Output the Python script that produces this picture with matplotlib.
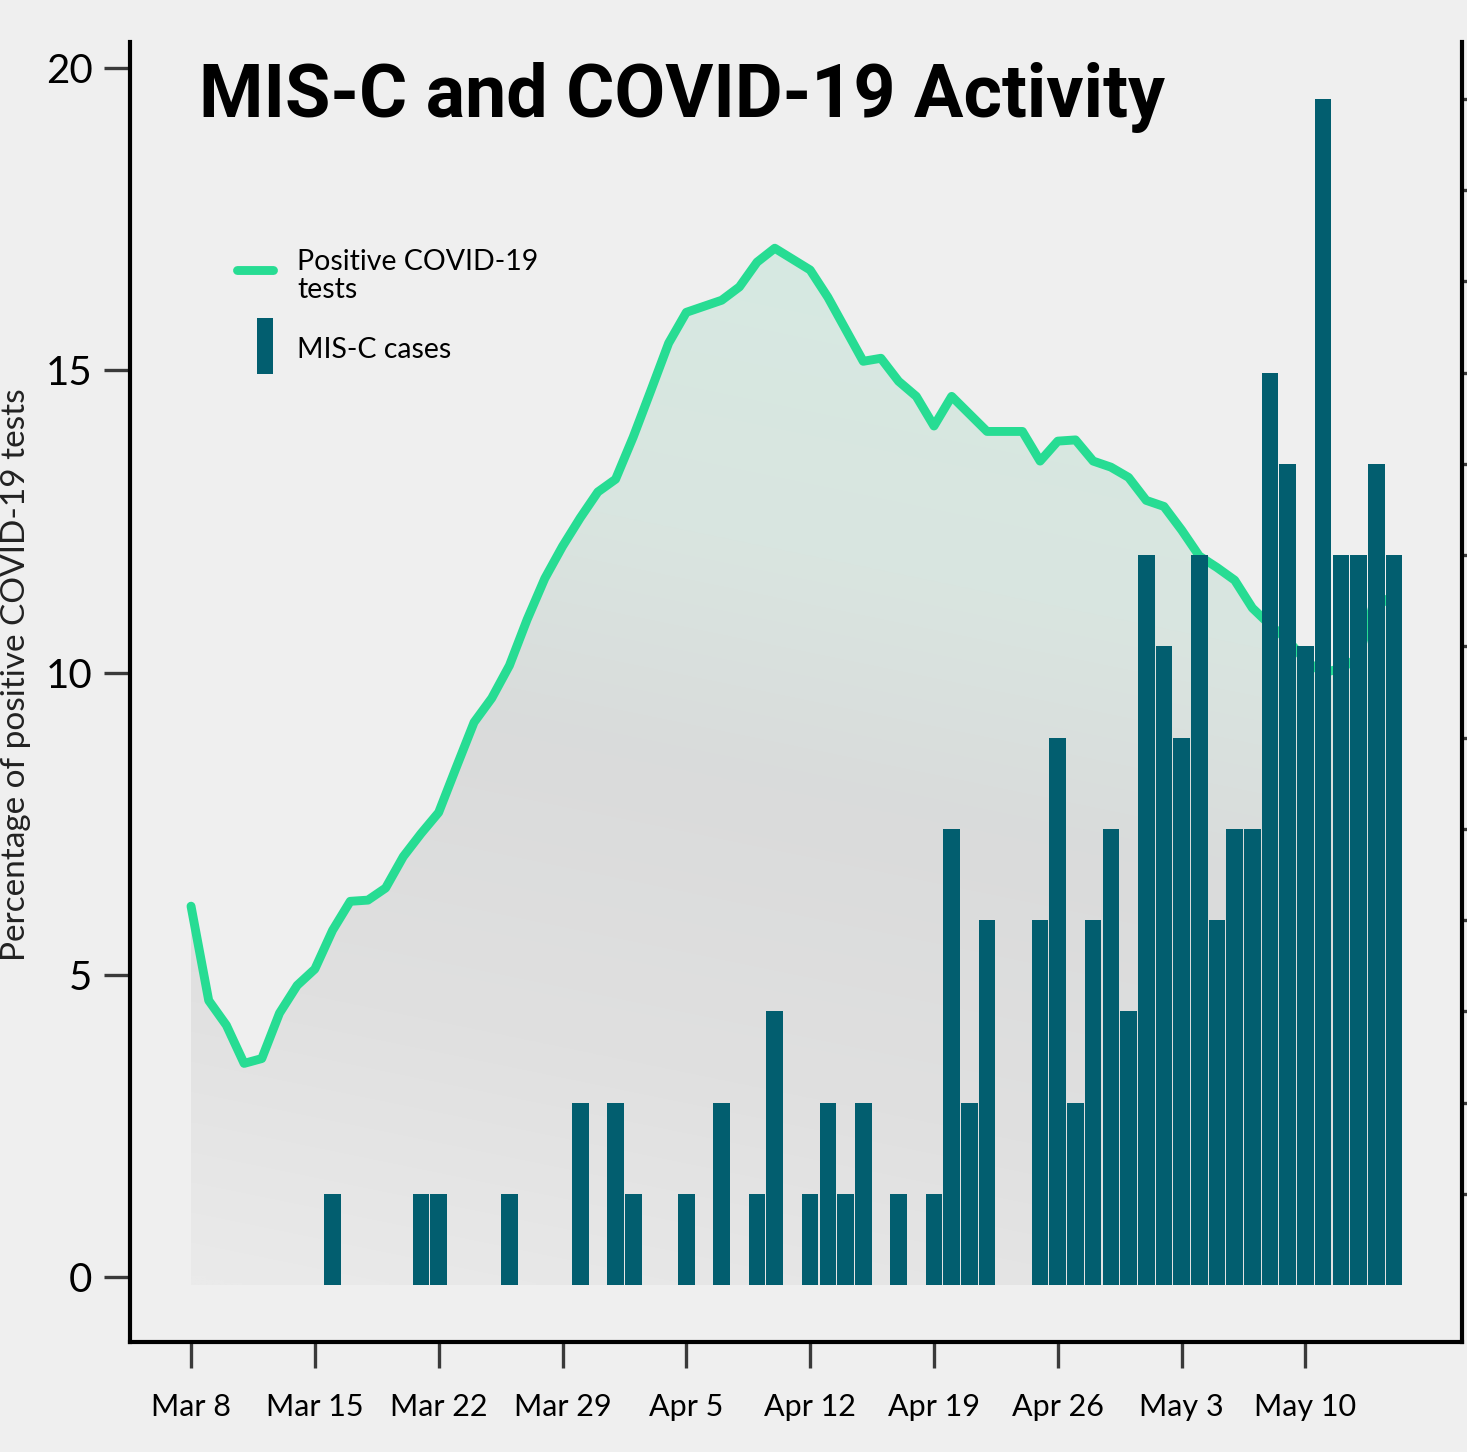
import numpy as np
import matplotlib.pyplot as plt
from matplotlib.patches import Polygon, Rectangle
from matplotlib.lines import Line2D

plt.rcParams['font.family'] = ['Lato', 'DejaVu Sans']

# day 0 = Mar 8
pct_positive = [6.14, 4.58, 4.17, 3.54, 3.62, 4.37, 4.83, 5.10, 5.74, 6.22,
                6.24, 6.44, 6.96, 7.34, 7.69, 8.44, 9.18, 9.58, 10.12, 10.88,
                11.56, 12.09, 12.56, 12.99, 13.20, 13.90, 14.67, 15.45, 15.96, 16.06,
                16.16, 16.38, 16.79, 17.02, 16.84, 16.66, 16.21, 15.68, 15.15, 15.20,
                14.82, 14.57, 14.08, 14.57, 14.28, 13.99, 13.99, 13.99, 13.50, 13.83,
                13.85, 13.50, 13.40, 13.23, 12.85, 12.75, 12.36, 11.93, 11.74, 11.53,
                11.07, 10.79, 10.54, 10.20, 10.00, 10.07, 10.25, 11.30, 11.10]
misc_cases = [0, 0, 0, 0, 0, 0, 0, 0, 1, 0,
              0, 0, 0, 1, 1, 0, 0, 0, 1, 0,
              0, 0, 2, 0, 2, 1, 0, 0, 1, 0,
              2, 0, 1, 3, 0, 1, 2, 1, 2, 0,
              1, 0, 1, 5, 2, 4, 0, 0, 4, 6,
              2, 4, 5, 3, 8, 7, 6, 8, 4, 5,
              5, 10, 9, 7, 13, 8, 8, 9, 8]
tick_days = [0, 7, 14, 21, 28, 35, 42, 49, 56, 63]
tick_labels = ["Mar 8", "Mar 15", "Mar 22", "Mar 29", "Apr 5",
               "Apr 12", "Apr 19", "Apr 26", "May 3", "May 10"]
pct_ticks = [0, 5, 10, 15, 20]
case_ticks = list(range(1, 14))

days = np.arange(len(pct_positive))
bar_days = np.arange(len(misc_cases))

bg = "#efefef"
green = "#27dc93"
teal = "#025e6f"
tickc = "#3a3a3a"

fig = plt.figure(figsize=(14.67, 14.52), dpi=100, facecolor=bg)
ax = fig.add_axes([130 / 1467, 110 / 1452, 1332 / 1467, 1300 / 1452])
ax.set_facecolor(bg)
ax2 = ax.twinx()

ax.set_xlim(-3.45, 71.85)
ax.set_ylim(-1.067, 20.43)
ax2.set_ylim(-0.625, 13.625)

# baseline of the area = zero of the right axis, in left-axis units
y0, y1 = ax.get_ylim()
r0, r1 = ax2.get_ylim()
base = y0 + (0 - r0) / (r1 - r0) * (y1 - y0)

# gradient area under the line
top = 17.6
xx = np.linspace(days[0], days[-1], 200)
yy = np.linspace(base, top, 300)
X, Y = np.meshgrid(xx, yy)
t = Y + 0.06 * (X - 34)
stops = [-2, 3, 8, 12, 18]
cols = np.array([[234, 234, 234],
                 [224, 224, 224],
                 [218, 219, 219],
                 [217, 229, 224],
                 [214, 234, 226]]) / 255
img = np.dstack([np.interp(t, stops, cols[:, i]) for i in range(3)])
poly = Polygon(list(zip(days, pct_positive)) + [(days[-1], base), (days[0], base)],
               closed=True, facecolor='none', edgecolor='none')
ax.add_patch(poly)
im = ax.imshow(img, extent=[days[0], days[-1], base, top], origin='lower',
               aspect='auto', zorder=1, interpolation='bilinear')
im.set_clip_path(poly)

ax.plot(days, pct_positive, color=green, lw=6.4, solid_capstyle='round',
        solid_joinstyle='round', zorder=2)

ax2.bar(bar_days, misc_cases, width=0.94, color=teal, zorder=3)

ax.set_xlim(-3.45, 71.85)
ax.set_ylim(-1.067, 20.43)

# spines
for s in ['top', 'right']:
    ax.spines[s].set_visible(False)
for s in ['top', 'left', 'bottom']:
    ax2.spines[s].set_visible(False)
for sp in [ax.spines['left'], ax.spines['bottom'], ax2.spines['right']]:
    sp.set_linewidth(3)
    sp.set_color('black')

# ticks
ax.set_yticks(pct_ticks)
ax.set_xticks(tick_days, tick_labels)
ax.tick_params(axis='y', length=19, width=2.4, color=tickc, pad=8, labelsize=29)
ax.tick_params(axis='x', length=19, width=2.4, color=tickc, pad=18, labelsize=22)
ax2.set_yticks(case_ticks)
ax2.tick_params(axis='y', length=19, width=2.4, color=tickc, labelright=False)

# legend
ax.add_line(Line2D([0.0807, 0.107], [0.8246, 0.8246], transform=ax.transAxes,
                   color=green, lw=6.4, solid_capstyle='round', clip_on=False))
ax.text(0.1254, 0.8246, "Positive COVID-19", transform=ax.transAxes,
        fontsize=20.5, va='baseline', ha='left')
ax.text(0.1254, 0.8031, "tests", transform=ax.transAxes,
        fontsize=20.5, va='baseline', ha='left')
ax.add_patch(Rectangle((0.0953, 0.7446), 0.012, 0.0431, transform=ax.transAxes,
                       facecolor=teal, edgecolor='none', clip_on=False))
ax.text(0.1254, 0.7569, "MIS-C cases", transform=ax.transAxes,
        fontsize=20.5, va='baseline', ha='left')

# title
fig.text(199 / 1467, 1 - 117 / 1452, "MIS-C and COVID-19 Activity",
         fontsize=53, fontweight='bold', ha='left', va='baseline',
         family=['Roboto', 'Open Sans', 'DejaVu Sans'])

# y label at the left edge
fig.text(1 / 1467, 1 - 675 / 1452, "Percentage of positive COVID-19 tests",
         rotation=90, fontsize=24, ha='left', va='center', color='#222222')

fig.savefig("out.png", dpi=100, facecolor=bg)
